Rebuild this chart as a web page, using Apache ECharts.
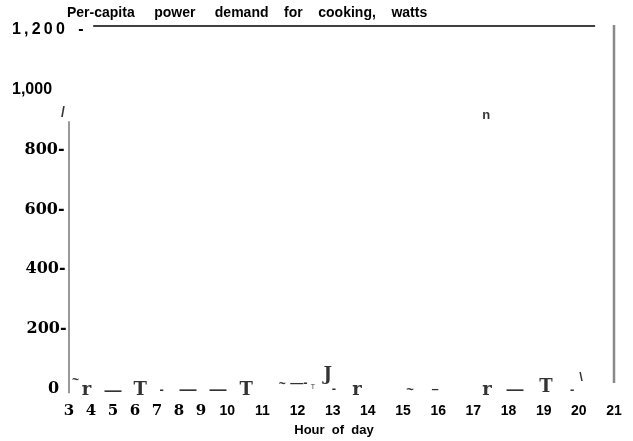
<!DOCTYPE html>
<html>
<head>
<meta charset="utf-8">
<script src="https://cdn.jsdelivr.net/npm/echarts@6/dist/echarts.min.js"></script>
<style>
  html, body { margin: 0; padding: 0; background: #fff; }
  #chart { width: 633px; height: 441px; }
</style>
</head>
<body>
<div id="chart"></div>
<script>
// ---- data ----
// printed hour labels and where each sits on the reference's uneven hour scale
const hourLabels = ['3','4','5','6','7','8','9','10','11','12','13','14','15','16','17','18','19','20','21'];
const hourAxisPos = [0,5,10,15,20,25,30,36,44,52,60,68,76,84,92,100,108,116,124];
// y axis ticks (watts)
const yTickValues = [0,200,400,600,800,1000,1200];
const yTickLabels = ['0','200-','400-','600-','800-','1,000','1\u2009,\u20092\u20090\u20090   -'];
// scanned glyph marks along the curve (text, position on hour scale, watts)
const glyphText  = ['~','r','—','T','-','—','—','T','~','—-','T','J','-','r','~','–','r','—','T','-','\\','n','/'];
const glyphPos   = [1.5,4.0,10.0,16.2,21.1,27.1,33.9,40.3,48.5,52.3,55.5,58.9,60.3,65.5,77.6,83.3,95.1,101.5,108.5,114.5,116.5,94.9,-1.4];
const glyphValue = [27,-3,-8,-3,-6,-6,-6,-3,13,20,5,47,-3,-3,-6,-3,-3,-3,5,-6,40,915,922];
// frame lines of the printed chart: [[pos, watts],[pos, watts]]
const leftRule  = [[0,-14],[0,895]];
const rightRule = [[124,20],[124,1217]];
const topRule   = [[5.5,1213],[119.7,1213]];

// ---- styling ----
const SERIF = 'DejaVu Serif';
const SANS = 'Liberation Sans';
const glyphStyleKey = ['sansS','serif','dash','serif','sans','dash','dash','serif','sansS','sans','tiny','serif','sans','serif','sans','sans','serif','dash','serif','sans','sans','sans','slash'];
const glyphStyles = {
  serif: { fontFamily: SERIF, fontWeight: 'bold', fontSize: 18 },
  dash:  { fontFamily: SANS, fontWeight: 'bold', fontSize: 17 },
  sans:  { fontFamily: SANS, fontWeight: 'bold', fontSize: 13 },
  sansS: { fontFamily: SANS, fontWeight: 'bold', fontSize: 12 },
  tiny:  { fontFamily: SANS, fontWeight: 'normal', fontSize: 7 },
  slash: { fontFamily: SANS, fontWeight: 'bold', fontSize: 14 }
};
const yLabelKeys = ['y0','y2','y4','y6','y8','y10','y12'];
const serifLbl = { fontFamily: SERIF, fontWeight: 'bold', fontSize: 16, color: '#000' };
const sansLbl = { fontFamily: SANS, fontWeight: 'bold', fontSize: 16, color: '#000' };

const glyphData = glyphText.map((t, i) => ({
  value: [glyphPos[i], glyphValue[i]],
  name: t,
  label: Object.assign({ show: true, position: 'inside', formatter: t, color: '#000' }, glyphStyles[glyphStyleKey[i]])
}));

function ruleSeries(data, color, width) {
  return {
    type: 'line', data: data, symbol: 'none', clip: false, silent: true,
    lineStyle: { color: color, width: width }, animation: false
  };
}

const chart = echarts.init(document.getElementById('chart'), null, { renderer: 'canvas' });
chart.setOption({
  animation: false,
  backgroundColor: '#fff',
  title: {
    text: 'Per-capita     power     demand    for    cooking,    watts',
    left: 67, top: 6, padding: 0,
    textStyle: { fontFamily: SANS, fontWeight: 'bold', fontSize: 14, color: '#000' }
  },
  grid: { left: 69, right: 19, top: 30, bottom: 52, containLabel: false, outerBoundsMode: 'none' },
  xAxis: {
    type: 'value', min: 0, max: 124,
    name: 'Hour  of  day', nameLocation: 'middle', nameGap: 34,
    nameTextStyle: { fontFamily: SANS, fontWeight: 'bold', fontSize: 13, color: '#000', padding: [0, 15, 0, 0] },
    axisLine: { show: false }, axisTick: { show: false }, splitLine: { show: false },
    axisLabel: {
      customValues: hourAxisPos,
      margin: 15,
      formatter: function (v) {
        const i = hourAxisPos.indexOf(v);
        if (i < 0) return '';
        return (i < 7 ? '{s|' : '{a|') + hourLabels[i] + '}';
      },
      rich: {
        s: { fontFamily: SERIF, fontWeight: 'bold', fontSize: 15, color: '#000' },
        a: { fontFamily: SANS, fontWeight: 'bold', fontSize: 14, color: '#000' }
      }
    }
  },
  yAxis: {
    type: 'value', min: 0, max: 1200, interval: 200,
    axisLine: { show: false }, axisTick: { show: false }, splitLine: { show: false },
    axisLabel: {
      align: 'left', margin: 59,
      formatter: function (v) {
        const i = yTickValues.indexOf(v);
        if (i < 0) return '';
        return '{' + yLabelKeys[i] + '|' + yTickLabels[i] + '}';
      },
      rich: {
        y0:  Object.assign({ padding: [0, 0, 0, 38] }, serifLbl),
        y2:  Object.assign({ padding: [0, 0, 0, 16.5] }, serifLbl),
        y4:  Object.assign({ padding: [0, 0, 0, 15.5] }, serifLbl),
        y6:  Object.assign({ padding: [0, 0, 0, 14.5] }, serifLbl),
        y8:  Object.assign({ padding: [0, 0, 0, 14.5] }, serifLbl),
        y10: Object.assign({ padding: [0, 0, 0, 2] }, sansLbl),
        y12: Object.assign({ padding: [0, 0, 0, 2] }, sansLbl)
      }
    }
  },
  series: [
    ruleSeries(leftRule, '#777', 1.5),
    ruleSeries(rightRule, '#888', 2.5),
    ruleSeries(topRule, '#000', 1.5),
    {
      type: 'scatter', data: glyphData, symbolSize: 0, clip: false, silent: true,
      labelLayout: { hideOverlap: false }
    }
  ]
});
</script>
</body>
</html>
